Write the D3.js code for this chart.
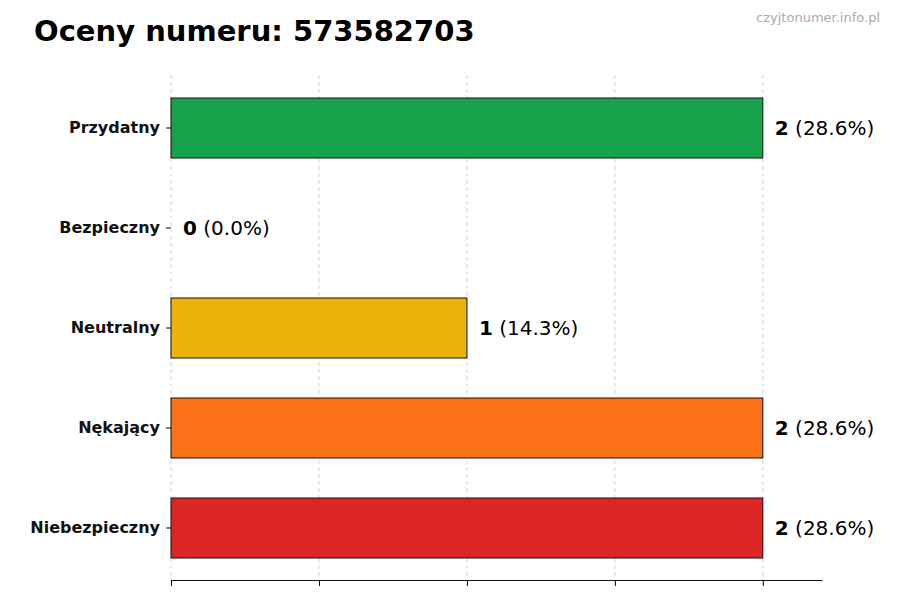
<!DOCTYPE html>
<html><head><meta charset="utf-8">
<script src="https://cdn.jsdelivr.net/npm/d3@7"></script>
<style>body{margin:0;background:#fff;font-family:"DejaVu Sans",sans-serif}</style>
</head><body><svg id="c" width="900" height="600"></svg>
<script>
const categories=["Przydatny","Bezpieczny","Neutralny","Nękający","Niebezpieczny"];
const counts=[2,0,1,2,2];
const percents=["28.6%","0.0%","14.3%","28.6%","28.6%"];
const colors=["#16a34a","#16a34a","#eab308","#f97316","#dc2626"];
const xTicks=[0,0.5,1,1.5,2];

const svg=d3.select("#c");
const x=d3.scaleLinear().domain([0,2.2]).range([171,822]);
const y=d3.scaleBand().domain(categories).range([78,578]).paddingInner(0.4).paddingOuter(0.2);

svg.append("text").attr("x",34).attr("y",41).attr("font-size",29).attr("font-weight","bold").text("Oceny numeru: 573582703");
svg.append("text").attr("x",880).attr("y",22).attr("text-anchor","end").attr("font-size",13).attr("fill","#aaa").text("czyjtonumer.info.pl");

svg.append("g").selectAll("line").data(xTicks).join("line")
 .attr("x1",d=>x(d)).attr("x2",d=>x(d)).attr("y1",75).attr("y2",580)
 .attr("stroke","#ccc").attr("stroke-dasharray","4,3").attr("stroke-width",0.8);

svg.append("g").selectAll("rect").data(categories).join("rect")
 .attr("x",x(0)).attr("y",d=>y(d)).attr("height",y.bandwidth())
 .attr("width",(d,i)=>x(counts[i])-x(0)).attr("fill",(d,i)=>colors[i])
 .attr("stroke","#111").attr("stroke-width",1);

const lab=svg.append("g").selectAll("text").data(categories).join("text")
 .attr("x",(d,i)=>x(counts[i])+12).attr("y",d=>y(d)+y.bandwidth()/2).attr("dy","0.35em")
 .attr("font-size",20);
lab.append("tspan").attr("font-weight","bold").text((d,i)=>counts[i]);
lab.append("tspan").text((d,i)=>" ("+percents[i]+")");

const ax=svg.append("g").attr("transform","translate(0,580)").call(d3.axisBottom(x).tickValues(xTicks).tickFormat("").tickSize(6).tickSizeOuter(0));
ax.select(".domain").attr("stroke","#111");
const ay=svg.append("g").attr("transform","translate(171,0)").call(d3.axisLeft(y).tickSize(5));
ay.select(".domain").remove();
ay.selectAll("text").attr("font-size",16).attr("font-weight","bold").attr("font-family","DejaVu Sans").attr("fill","#111").attr("x",-11);
</script></body></html>
